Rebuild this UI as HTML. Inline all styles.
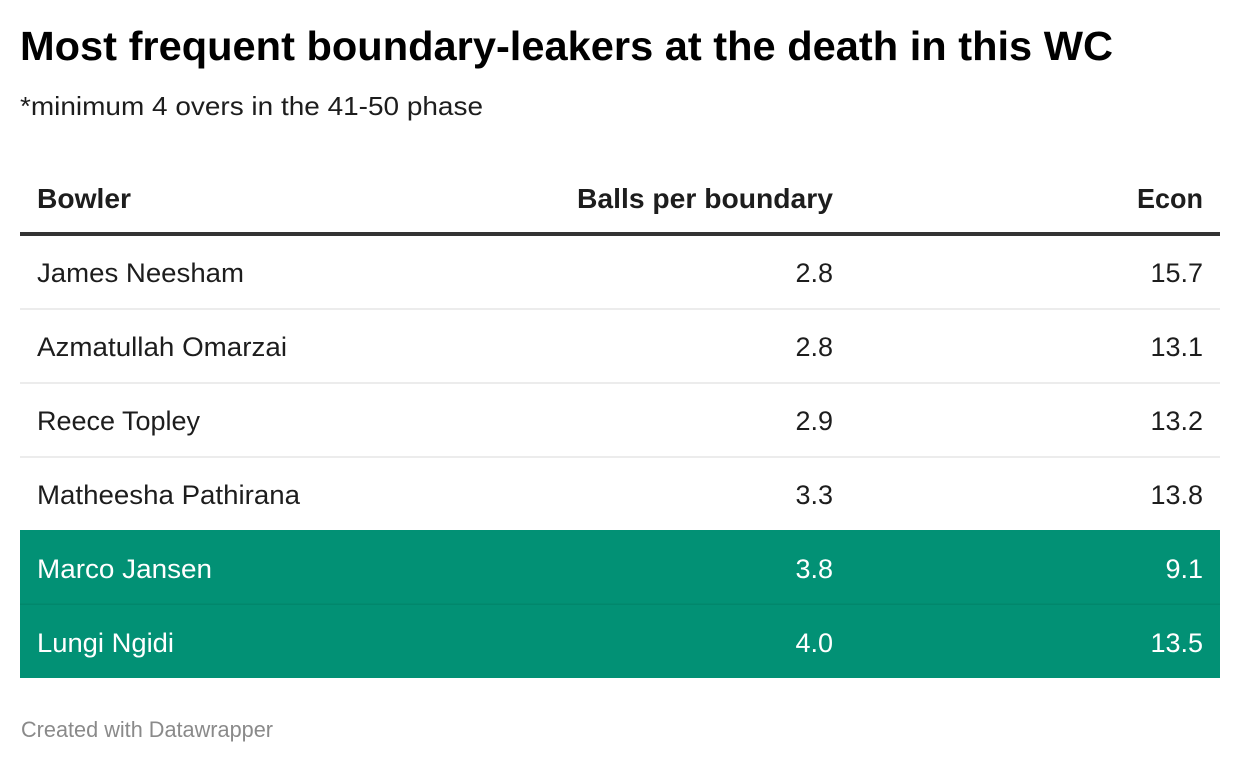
<!DOCTYPE html>
<html>
<head>
<meta charset="utf-8">
<style>
html,body{margin:0;padding:0;background:#fff;}
svg{display:block;}
text{font-family:"Liberation Sans", Arial, sans-serif;}
</style>
</head>
<body>
<svg width="1240" height="764" viewBox="0 0 1240 764" xmlns="http://www.w3.org/2000/svg">
  <rect x="0" y="0" width="1240" height="764" fill="#ffffff"/>

  <!-- Title -->
  <text x="20" y="60" font-size="41" font-weight="bold" fill="#000" textLength="1093" lengthAdjust="spacingAndGlyphs">Most frequent boundary-leakers at the death in this WC</text>
  <!-- Subtitle -->
  <text x="20" y="115" font-size="26" fill="#1d1d1d" textLength="463" lengthAdjust="spacingAndGlyphs">*minimum 4 overs in the 41-50 phase</text>

  <!-- Header -->
  <text x="37" y="208" font-size="28" font-weight="bold" fill="#1d1d1d" textLength="94" lengthAdjust="spacingAndGlyphs">Bowler</text>
  <text x="577" y="208" font-size="28" font-weight="bold" fill="#1d1d1d" textLength="256" lengthAdjust="spacingAndGlyphs">Balls per boundary</text>
  <text x="1137" y="208" font-size="28" font-weight="bold" fill="#1d1d1d" textLength="66" lengthAdjust="spacingAndGlyphs">Econ</text>
  <rect x="20" y="232" width="1200" height="4" fill="#333333"/>

  <!-- Row separators -->
  <rect x="20" y="308" width="1200" height="2" fill="#ececec"/>
  <rect x="20" y="382" width="1200" height="2" fill="#ececec"/>
  <rect x="20" y="456" width="1200" height="2" fill="#ececec"/>

  <!-- Highlight rows -->
  <rect x="20" y="530" width="1200" height="148" fill="#029175"/>
  <rect x="20" y="603.5" width="1200" height="1.5" fill="#01876c"/>

  <!-- Rows -->
  <g font-size="27" fill="#1d1d1d">
    <text x="37" y="282" textLength="207" lengthAdjust="spacingAndGlyphs">James Neesham</text>
    <text x="833" y="282" text-anchor="end">2.8</text>
    <text x="1203" y="282" text-anchor="end">15.7</text>

    <text x="37" y="356" textLength="250" lengthAdjust="spacingAndGlyphs">Azmatullah Omarzai</text>
    <text x="833" y="356" text-anchor="end">2.8</text>
    <text x="1203" y="356" text-anchor="end">13.1</text>

    <text x="37" y="430" textLength="163" lengthAdjust="spacingAndGlyphs">Reece Topley</text>
    <text x="833" y="430" text-anchor="end">2.9</text>
    <text x="1203" y="430" text-anchor="end">13.2</text>

    <text x="37" y="504" textLength="263" lengthAdjust="spacingAndGlyphs">Matheesha Pathirana</text>
    <text x="833" y="504" text-anchor="end">3.3</text>
    <text x="1203" y="504" text-anchor="end">13.8</text>
  </g>
  <g font-size="27" fill="#ffffff">
    <text x="37" y="578" textLength="175" lengthAdjust="spacingAndGlyphs">Marco Jansen</text>
    <text x="833" y="578" text-anchor="end">3.8</text>
    <text x="1203" y="578" text-anchor="end">9.1</text>

    <text x="37" y="652" textLength="137" lengthAdjust="spacingAndGlyphs">Lungi Ngidi</text>
    <text x="833" y="652" text-anchor="end">4.0</text>
    <text x="1203" y="652" text-anchor="end">13.5</text>
  </g>

  <!-- Footer -->
  <text x="21" y="737" font-size="22" fill="#8a8a8a" textLength="252" lengthAdjust="spacingAndGlyphs">Created with Datawrapper</text>
</svg>
</body>
</html>
